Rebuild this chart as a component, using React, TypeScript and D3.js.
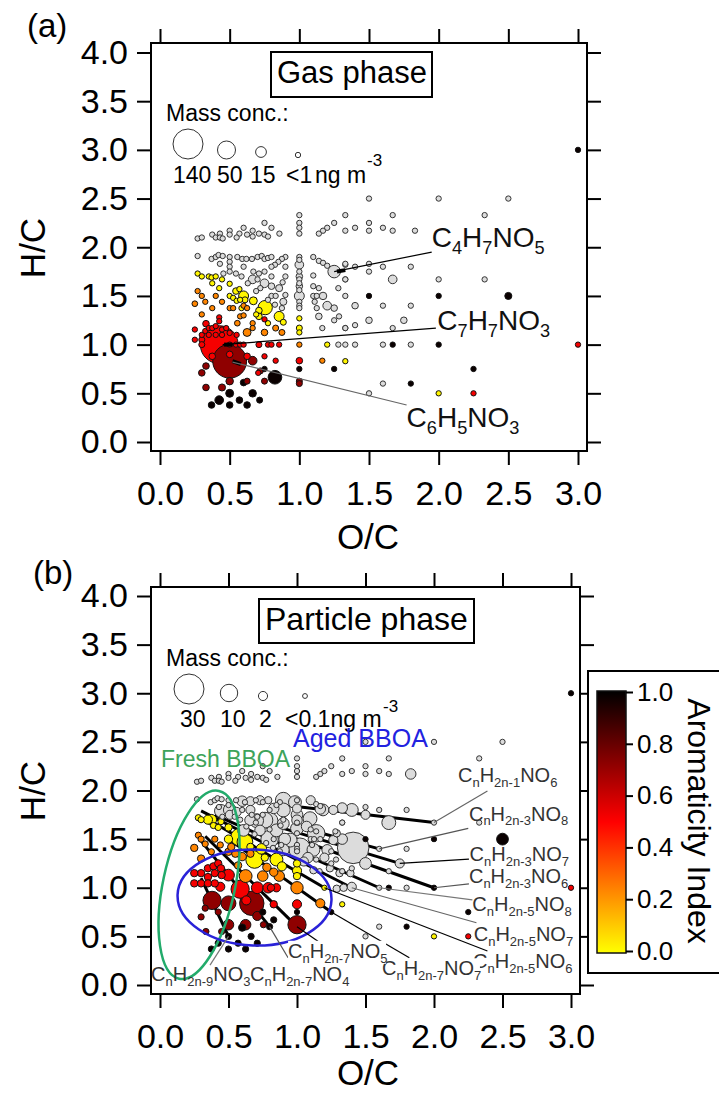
import React, { useEffect, useRef } from 'react';
import * as d3 from 'd3';

type Pt = [number, number, number?];

// small grey compounds seen in both phases [O/C, H/C]
const upperGrey: Pt[] = [
  [.27, 2.09], [.30, 2.10], [.375, 2.13], [.40, 2.10], [.43, 2.14], [.43, 2.10], [.45, 2.09], [.50, 2.17], [.50, 2.13],
  [.60, 2.20], [.57, 2.14], [.55, 2.10], [.625, 2.13], [.665, 2.17], [.665, 2.11], [.71, 2.14], [.75, 2.13], [.775, 2.11],
  [.75, 2.25], [.80, 2.20], [.857, 2.14], [1, 2.33], [1, 2.25], [1, 2.20], [1, 2.14], [1.14, 2.14], [1.17, 2.17], [1.2, 2.2],
  [1.25, 2.25], [1.33, 2.33], [1.33, 2.17], [1.4, 2.2], [1.5, 2.5], [2, 2.5], [2.5, 2.5], [1.67, 2.33], [2.33, 2.33], [1.5, 2.25],
  [1.5, 2.17], [1.6, 2.2], [1.67, 2.17], [1.83, 2.17],
];
const clusterGrey: Pt[] = [
  [.27, 1.91], [.37, 1.88], [.40, 1.9], [.42, 1.92], [.45, 1.91], [.5, 1.9], [.555, 1.9], [.59, 1.88], [.62, 1.88], [.66, 1.88],
  [.70, 1.9], [.73, 1.91], [.75, 1.88], [.775, 1.89], [.80, 1.9], [.90, 1.9], [.875, 1.88], [.85, 1.85], [.825, 1.82], [.8, 1.8],
  [.9, 1.8], [.43, 1.83], [.5, 1.85], [.5, 1.8], [.6, 1.8], [.5, 1.75], [.455, 1.73], [.545, 1.73], [.585, 1.7], [.67, 1.75],
  [.75, 1.75], [.71, 1.73], [.7, 1.67], [.8, 1.7], [.63, 1.63], [.8, 1.6], [.855, 1.58], [.88, 1.64], [.9, 1.7], [.72, 1.58],
  [.69, 1.55], [.8, 1.5], [.83, 1.5], [.9, 1.51], [.885, 1.44], [.875, 1.375], [.775, 1.46], [.825, 1.41],
  [1, 1.9], [1, 1.87], [1, 1.75], [1, 1.7], [1, 1.67], [1, 1.63], [1, 1.6], [1, 1.56], [1, 1.44], [1, 1.4], [1, 1.375],
  [1.1, 1.9], [1.14, 1.86], [1.17, 1.84], [1.2, 1.81], [1.33, 1.67], [1.1, 1.71], [1.33, 1.82], [1.1, 1.6], [1.14, 1.58], [1.28, 1.58],
  [1.1, 1.5], [1.125, 1.5], [1.17, 1.5], [1.33, 1.5], [1.11, 1.44], [1.125, 1.375], [1.25, 1.375], [1.14, 1.29], [1.285, 1.29],
  [1.25, 1.25], [1.165, 1.17], [1.33, 1.17],
];
const rightGrey: Pt[] = [
  [1.33, 1.83], [1.4, 1.8], [1.5, 1.83], [1.6, 1.8], [1.8, 1.8], [1.5, 1.75], [1.33, 1.67], [2, 1.67], [2.33, 1.67],
  [1.4, 1.4], [1.6, 1.4], [1.8, 1.4], [1.4, 1.2], [1.5, 1.25], [1.67, 1.17], [1.75, 1.25], [1.33, 1.17],
  [1.28, 1], [1.33, 1], [1.4, 1], [1.6, 1], [1.8, 1], [1.6, .6], [1.5, .5],
];
const sharedBlack: Pt[] = [[3, 3], [1.5, 1.5], [2, 1.5], [2.5, 1.5, 4], [1.67, 1], [2, 1], [2.25, .75], [1.8, .6], [1, .75], [1.25, .75]];
const sharedYellow: Pt[] = [[1.33, .83], [2, .5], [1.2, 1]];
const sharedRed: Pt[] = [[3, 1], [2.25, .5]];

// gas phase [O/C, H/C, mass]
const gasGrey: Pt[] = [
  [1.25, 1.75, 22], [1.67, 1.67, 8], [1, 1.82, 8], [1, 1.5, 12], [.665, 1.67, 8], [.75, 1.63, 8], [1.2, 1.4, 8], [1.17, 1.5, 5], [1.25, 1.375, 3],
  [1, 1.6, 3], [1, 1.7, 3], [.8, 1.6, 3], [.855, 1.58, 4], [.885, 1.44, 4], [1.14, 1.29, 3], [1.5, 1.25, 3], [1.75, 1.25, 3], [1.4, 1.4, 3],
];
const gasYellow: Pt[] = [
  [.27, 1.73, 1], [.3, 1.7, 1], [.35, 1.7, 1], [.37, 1.69, 1], [.4, 1.7, 1], [.375, 1.63, 1], [.445, 1.67, 1], [.425, 1.58, 1], [.5, 1.625, 1],
  [.545, 1.55, 3], [.57, 1.57, 1], [.6, 1.5, 12], [.5, 1.5, 1], [.525, 1.48, 1], [.55, 1.45, 1], [.575, 1.46, 1], [.61, 1.46, 2], [.67, 1.45, 6],
  [.585, 1.375, 1], [.755, 1.38, 30], [.71, 1.35, 3], [.69, 1.31, 1], [.71, 1.29, 3], [.855, 1.29, 12], [.885, 1.23, 2], [1, 1.27, 1], [1, 1.17, 2], [1, 1.125, 1], [.775, 1.22, 1],
];
const gasOrange: Pt[] = [
  [.27, 1.55, 1], [.3, 1.5, 1], [.325, 1.44, 1], [.25, 1.42, 1.5], [.4, 1.5, 1], [.375, 1.375, 1], [.445, 1.44, 1], [.5, 1.375, 1], [.525, 1.375, 1],
  [.6, 1.4, 1], [.625, 1.375, 1], [.3, 1.31, 1], [.575, 1.29, 1], [.6, 1.3, 1], [.555, 1.22, 1.5], [.665, 1.22, 1], [.665, 1.17, 1], [.625, 1.125, 6],
  [.75, 1.125, 3], [.83, 1.17, 2], [.875, 1.125, 2], [1, 1, 1], [1.165, .835, 1],
];
const gasRed: Pt[] = [
  [.425, 1, 217], [.33, 1.215, 3], [.25, 1.155, 1], [.25, 1.05, 1], [.3, 1.1, 1], [.325, 1.14, 1], [.35, 1.17, 1], [.375, 1.17, 1], [.4, 1.19, 1],
  [.425, 1.28, 1], [.425, 1.24, 1], [.445, 1.155, 1], [.475, 1.17, 1], [.5, 1.12, 1], [.55, 1.1, 1], [.3, 1.05, 2], [.3, 1, 2], [.445, 1.1, 1],
  [.4, 1.1, 1], [.35, 1.1, 1], [.5, 1, 1], [.545, 1, 1], [.575, 1, 1], [.6, 1, 1], [.71, 1, 2], [.775, 1, 1], [.8, 1, 1], [.855, 1, 1],
  [.75, 1.26, 1], [1, .835, 3], [.75, .88, 1], [.83, .835, 1], [.375, .88, 3], [.5, .9, 3], [.625, .88, 3], [.705, .71, 1],
];
const gasDark: Pt[] = [
  [.5, .83, 176], [.665, .835, 8], [.33, .78, 3], [.3, .71, 3], [.72, .73, 2], [.5, .625, 5], [.625, .625, 2], [.75, .625, 2], [1, .625, 2], [1, .6, 2], [.33, .56, 3], [.445, .56, 4],
];
const gasBlack: Pt[] = [
  [.825, .665, 27], [.6, .61, 3], [.75, .75, 1], [.5, .5, 6], [.665, .5, 5], [.57, .43, 3], [.715, .43, 2], [.425, .43, 8], [.37, .38, 3], [.5, .38, 3], [.625, .38, 3],
];

// particle phase [O/C, H/C, mass]
const particleGrey: Pt[] = [
  [1.41, 1.41, 33], [.6, 1.89, 3], [.66, 1.89, 2], [.73, 1.9, 2], [.9, 1.9, 8], [.79, 1.9, 1], [.985, 1.88, 5], [1.1, 1.9, 2], [1.17, 1.81, 3], [1.19, 1.8, 4],
  [1.4, 1.8, 5], [1.33, 1.83, 1], [1.265, 1.8, 2], [.445, 1.79, 5], [.51, 1.8, 5], [.8, 1.69, 9], [.705, 1.69, 6], [.9, 1.8, 6], [1, 1.75, 4], [1, 1.61, 5],
  [1.095, 1.71, 6], [.9, 1.66, 4], [1.14, 1.56, 10], [.8, 1.5, 10], [.91, 1.5, 4], [1.02, 1.4, 16], [.9, 1.39, 4], [1.265, 1.49, 2], [1.29, 1.56, 1], [1.34, 1.5, 2],
  [.51, 1.75, 2], [1.67, 1.67, 6], [1.83, 2.17, 3], [1.33, 1.82, 3], [1.5, 1.25, 4], [1.75, 1.25, 2], [1.5, 1.75, 2], [1.33, 1.5, 3], [1.2, 1.31, 2], [1.08, 1.31, 3],
  [.657, 1.695, 3], [.766, 1.695, 8], [.61, 1.59, 4], [1, 1.695, 3], [1.07, 1.63, 3], [.95, 1.49, 6], [.85, 1.59, 5], [1.12, 1.39, 5], [1.22, 1.39, 3], [1.05, 1.27, 2],
  [1.12, 1.18, 1], [1.24, 1.2, 1], [1.31, 1.15, 1], [1.39, 1.15, 1], [1.29, .99, 1], [1.34, 1, 1], [1.4, 1.01, 2], [.73, 1.59, 3], [.56, 1.78, 2], [.66, 1.8, 2],
  [1, 1.815, 2], [.83, 1.815, 3],
];
const particleYellow: Pt[] = [
  [.28, 1.72, .5], [.3, 1.7, .5], [.35, 1.7, 2], [.375, 1.7, 3], [.39, 1.64, .5], [.445, 1.68, .5], [.425, 1.62, .5], [.5, 1.62, 1], [.5, 1.5, 1.5], [.58, 1.52, 10],
  [.62, 1.47, 8], [.69, 1.29, 10], [.85, 1.29, 5], [.89, 1.22, 2], [1, 1.25, 1], [1, 1.175, 2], [1, 1.12, 1], [.765, 1.31, 1], [.74, 1.4, 3], [.66, 1.42, 1],
];
const particleOrange: Pt[] = [
  [.28, 1.54, .5], [.3, 1.5, .5], [.33, 1.45, .5], [.25, 1.41, 1], [.4, 1.5, .5], [.375, 1.37, .5], [.44, 1.44, .5], [.5, 1.37, 1], [.52, 1.42, 1], [.55, 1.35, 1],
  [.6, 1.32, 1.5], [.66, 1.35, 1], [.78, 1.21, 1.5], [.83, 1.16, 1.5], [.87, 1.12, 3], [1, 1, 4.5], [.75, 1.12, 3], [.625, 1.12, 5], [1.17, .84, 2], [.3, 1.3, 1], [.57, 1.23, 1],
];
const particleRed: Pt[] = [
  [.35, 1.2, 1], [.39, 1.22, 1], [.425, 1.25, 1], [.445, 1.2, 1], [.3, 1.15, 1], [.25, 1.15, 1], [.25, 1.045, 1], [.35, 1.11, 1], [.4, 1.15, 1], [.45, 1.13, 1],
  [.5, 1.13, 4], [.3, 1.045, 1], [.35, 1.045, 1], [.4, 1.045, 1], [.44, 1.01, 2], [.585, .985, 11], [.71, 1, 4], [.79, 1, 3], [.81, 1, 1], [.85, 1, 1.5], [1, .83, 2], [.83, .83, 1], [.63, .87, 2],
];
const particleDark: Pt[] = [
  [.38, .87, 11], [.5, .84, 7], [.67, .84, 20], [1, .62, 11], [.71, .71, 2], [.3, .7, .5], [.33, .79, .5], [.425, .75, .5], [.5, .62, 3], [.625, .62, 3], [.755, .62, .5], [.335, .55, .5], [.45, .55, .5],
];
const particleBlack: Pt[] = [
  [.75, .75, .5], [.83, .67, .5], [.8, .6, .5], [.6, .59, 1], [.5, .5, .5], [.665, .5, .5], [.425, .43, .5], [.57, .43, .5], [.71, .43, .5], [.375, .37, .5], [.5, .37, .5], [.625, .37, .5],
];

// homologous series drawn as thick lines in panel b
const seriesLines: Pt[][] = [
  [[.9, 1.85], [2, 1.67]],
  [[1, 1.63], [1.6, 1.4]],
  [[.9, 1.61], [1.75, 1.25]],
  [[.9, 1.55], [2, 1]],
  [[.4, 1.75], [1.6, 1]],
  [[.3, 1.79], [1.4, 1]],
  [[.33, 1.72], [1.2, 1]],
  [[.5, 1.5], [1.25, .75]],
  [[.33, 1.53], [1, .6]],
  [[.29, 1.5], [.8, .6]],
  [[.3, 1.1], [.5, .5]],
];

const gasStubs: Pt[][] = [
  [[1.27, 1.75], [1.33, 1.765]],
  [[.46, 1], [.52, 1]],
  [[.52, .83], [.58, .8]],
];

// leader target, line end, text position (all in O/C, H/C), then colour
const gasLabels = [
  { text: 'C_{4}H_{7}NO_{5}', target: [1.25, 1.75], end: [1.95, 1.95], at: [1.95, 2.0], color: '#000' },
  { text: 'C_{7}H_{7}NO_{3}', target: [.45, 1], end: [1.98, 1.17], at: [1.99, 1.15], color: '#000' },
  { text: 'C_{6}H_{5}NO_{3}', target: [.52, .82], end: [1.77, .38], at: [1.77, .155], color: '#666' },
];
const particleLabels = [
  { text: 'C_{n}H_{2n-1}NO_{6}', target: [2, 1.67], end: [2.39, 1.995], at: [2.175, 2.09], color: '#666' },
  { text: 'C_{n}H_{2n-3}NO_{8}', target: [1.6, 1.4], end: [2.25, 1.61], at: [2.255, 1.69], color: '#555' },
  { text: 'C_{n}H_{2n-3}NO_{7}', target: [1.75, 1.25], end: [2.255, 1.295], at: [2.26, 1.275], color: '#000' },
  { text: 'C_{n}H_{2n-3}NO_{6}', target: [2, 1], end: [2.255, 1.04], at: [2.255, 1.05], color: '#555' },
  { text: 'C_{n}H_{2n-5}NO_{8}', target: [1.6, 1], end: [2.28, .875], at: [2.28, .76], color: '#777' },
  { text: 'C_{n}H_{2n-5}NO_{7}', target: [1.4, 1], end: [2.31, .64], at: [2.29, .45], color: '#666' },
  { text: 'C_{n}H_{2n-5}NO_{6}', target: [1.2, 1], end: [2.39, .35], at: [2.285, .175], color: '#000' },
  { text: 'C_{n}H_{2n-7}NO_{7}', target: [1.25, .75], end: [1.82, .28], at: [1.62, .10], color: '#000', bg: true },
  { text: 'C_{n}H_{2n-7}NO_{5}', target: [1, .6], end: [1.153, .45], at: [.935, .28], color: '#000', bg: true },
  { text: 'C_{n}H_{2n-7}NO_{4}', target: [.8, .6], end: [.935, .28], at: [.657, .04], color: '#555' },
  { text: 'C_{n}H_{2n-9}NO_{3}', target: [.5, .5], end: [.365, .205], at: [-.065, .04], color: '#777' },
];

const xTicks = [0, .5, 1, 1.5, 2, 2.5, 3];
const yTicks = [0, .5, 1, 1.5, 2, 2.5, 3, 3.5, 4];
const barTicks = [0, .2, .4, .6, .8, 1];

const aiYellow = .02, aiOrange = .24, aiRed = .52, aiDark = .72, aiBlack = .98;

const aiColor = d3.scaleLinear<string>().domain([0, .5, 1]).range(['#ffff00', '#ff0000', '#000000']);

const font = 'Arial, "Liberation Sans", sans-serif';
const fmt = d3.format('.1f');

// renders "C_{n}H_{2n-1}" with real subscripts
const Formula = ({ text, x, y, size, color }: any) => {
  const parts = text.split(/(_\{[^}]*\})/).filter(Boolean);
  let wasSub = false;
  return (
    <text x={x} y={y} fontSize={size} fill={color}>
      {parts.map((p: string, i: number) => {
        const isSub = p.startsWith('_{');
        const dy = isSub === wasSub ? 0 : isSub ? size * .24 : -size * .24;
        wasSub = isSub;
        return <tspan key={i} dy={dy} fontSize={isSub ? size * .65 : size}>{isSub ? p.slice(2, -1) : p}</tspan>;
      })}
    </text>
  );
};

const Axes = ({ x, y, frame }: any) => {
  const ref = useRef<SVGGElement>(null);
  useEffect(() => {
    const g = d3.select(ref.current);
    g.selectAll('*').remove();
    const add = (axis: any, tr: string) => {
      const a = g.append('g').attr('transform', tr).call(axis);
      a.select('.domain').remove();
      a.selectAll('line').attr('stroke', '#000').attr('stroke-width', 2);
      a.selectAll('text').attr('font-size', 34).attr('font-family', font).attr('fill', '#000');
    };
    add(d3.axisBottom(x).tickValues(xTicks).tickSize(14).tickPadding(16).tickFormat((d: any) => fmt(d)), `translate(0,${frame.bottom})`);
    add(d3.axisTop(x).tickValues(xTicks).tickSize(14).tickFormat(() => ''), `translate(0,${frame.top})`);
    add(d3.axisLeft(y).tickValues(yTicks).tickSize(14).tickPadding(9).tickFormat((d: any) => fmt(d)), `translate(${frame.left},0)`);
    add(d3.axisRight(y).tickValues(yTicks).tickSize(14).tickFormat(() => ''), `translate(${frame.right},0)`);
  }, []);
  return <g ref={ref} />;
};

const Panel = ({ frame, xRange, yRange, groups, radius, lines, stubs, labels, labelSize, labelColor, children }: any) => {
  const x = d3.scaleLinear().domain([0, 3]).range(xRange);
  const y = d3.scaleLinear().domain([0, 4]).range(yRange);
  const all = groups
    .flatMap((g: any) => g.pts.map((p: Pt) => ({ o: p[0], h: p[1], m: p[2] ?? g.mass, ai: g.ai })));
  // a small marker sitting on a bigger grey one at the same spot is dropped
  const points = all
    .filter((p: any) => !all.some((q: any) => q !== p && q.m > p.m && p.ai === null && q.ai === null
      && Math.abs(q.o - p.o) < .02 && Math.abs(q.h - p.h) < .02))
    .sort((a: any, b: any) => b.m - a.m);
  const line = d3.line<Pt>().x((d) => x(d[0])).y((d) => y(d[1]));
  return (
    <g>
      <rect x={frame.left} y={frame.top} width={frame.right - frame.left} height={frame.bottom - frame.top} fill="#fff" stroke="#000" strokeWidth={2} />
      <Axes x={x} y={y} frame={frame} />
      {lines.map((l: Pt[], i: number) => <path key={i} d={line(l) as string} stroke="#000" strokeWidth={3} fill="none" />)}
      {points.map((p: any, i: number) => (
        <circle key={i} cx={x(p.o)} cy={y(p.h)} r={radius(p.m)}
          fill={p.ai === null ? '#dcdcdc' : aiColor(p.ai)}
          stroke={p.ai === null ? '#333' : '#111'} strokeWidth={1} />
      ))}
      {stubs.map((l: Pt[], i: number) => <path key={i} d={line(l) as string} stroke="#000" strokeWidth={4} fill="none" />)}
      {children(x, y)}
      {labels.map((l: any, i: number) => (
        <path key={i} d={line([l.target, l.end]) as string} stroke={l.color} strokeWidth={1.2} fill="none" />
      ))}
      {labels.map((l: any, i: number) => (
        <g key={i}>
          {l.bg && <rect x={x(l.at[0])} y={y(l.at[1]) - 17} width={98} height={23} fill="#fff" />}
          <Formula text={l.text} x={x(l.at[0])} y={y(l.at[1])} size={labelSize} color={labelColor ?? '#333'} />
        </g>
      ))}
    </g>
  );
};

const MassLegend = ({ radius, circles, texts, caption, baseline, sup }: any) => (
  <g>
    <text x={166} y={caption} fontSize={23}>Mass conc.:</text>
    {circles.map((c: any, i: number) => <circle key={i} cx={c.x} cy={c.y} r={radius(c.m)} fill="#fff" stroke="#333" strokeWidth={1} />)}
    {texts.map((t: any, i: number) => <text key={i} x={t.x} y={baseline} fontSize={23}>{t.s}</text>)}
    <text x={sup.x} y={sup.y} fontSize={17}>-3</text>
  </g>
);

export default function App() {
  const barRef = useRef<SVGGElement>(null);
  const barScale = d3.scaleLinear().domain([0, 1]).range([951, 692]);

  useEffect(() => {
    const g = d3.select(barRef.current);
    g.selectAll('*').remove();
    g.attr('transform', 'translate(626,0)').call(d3.axisRight(barScale).tickValues(barTicks).tickSize(7).tickPadding(4).tickFormat((d: any) => fmt(d)) as any);
    g.select('.domain').remove();
    g.selectAll('line').attr('stroke', '#000').attr('stroke-width', 2);
    g.selectAll('text').attr('font-size', 26).attr('font-family', font).attr('fill', '#000');
  }, []);

  const gasRadius = d3.scalePow().exponent(.6).domain([0, 140]).range([2, 15]);
  const particleRadius = d3.scalePow().exponent(.6).domain([0, 30]).range([2, 15]);

  const sharedGroups = (mass: number) => [
    { pts: upperGrey, mass, ai: null },
    { pts: clusterGrey, mass, ai: null },
    { pts: rightGrey, mass, ai: null },
    { pts: sharedBlack, mass, ai: aiBlack },
    { pts: sharedYellow, mass, ai: aiYellow },
    { pts: sharedRed, mass, ai: aiRed },
  ];

  const gasGroups = [
    ...sharedGroups(1),
    { pts: gasGrey, ai: null },
    { pts: gasYellow, ai: aiYellow },
    { pts: gasOrange, ai: aiOrange },
    { pts: gasRed, ai: aiRed },
    { pts: gasDark, ai: aiDark },
    { pts: gasBlack, ai: aiBlack },
  ];
  const particleGroups = [
    ...sharedGroups(.2),
    { pts: particleGrey, ai: null },
    { pts: particleYellow, ai: aiYellow },
    { pts: particleOrange, ai: aiOrange },
    { pts: particleRed, ai: aiRed },
    { pts: particleDark, ai: aiDark },
    { pts: particleBlack, ai: aiBlack },
  ];

  return (
    <svg width={719} height={1093} style={{ position: 'absolute', left: 0, top: 0 }} fontFamily={font}>
      <defs>
        <linearGradient id="aiGradient" x1="0" y1="1" x2="0" y2="0">
          {d3.range(0, 1.01, .1).map((t) => <stop key={t} offset={t} stopColor={aiColor(t)} />)}
        </linearGradient>
      </defs>

      <text x={27} y={37} fontSize={33}>(a)</text>
      <Panel frame={{ left: 151, right: 587, top: 43, bottom: 451 }} xRange={[160, 578]} yRange={[442, 52.5]}
        groups={gasGroups} radius={gasRadius} lines={[]} stubs={gasStubs} labels={gasLabels} labelSize={28} labelColor="#111">
        {() => (
          <g>
            <rect x={271} y={52} width={161} height={45} fill="#fff" stroke="#000" strokeWidth={2} />
            <text x={277} y={83} fontSize={31}>Gas phase</text>
            <MassLegend radius={gasRadius} caption={121} baseline={183} sup={{ x: 367, y: 166 }}
              circles={[{ x: 188, y: 144, m: 140 }, { x: 226.5, y: 150, m: 50 }, { x: 261, y: 152, m: 15 }, { x: 298, y: 155, m: 1 }]}
              texts={[{ x: 173, s: '140' }, { x: 217, s: '50' }, { x: 250, s: '15' }, { x: 286, s: '<1' }, { x: 315, s: 'ng m' }]} />
          </g>
        )}
      </Panel>
      <text x={368} y={549} fontSize={35} textAnchor="middle">O/C</text>
      <text transform="translate(45,248) rotate(-90)" fontSize={35} textAnchor="middle">H/C</text>

      <text x={33} y={584} fontSize={33}>(b)</text>
      <Panel frame={{ left: 151, right: 580, top: 587, bottom: 994 }} xRange={[160, 571]} yRange={[985, 596]}
        groups={particleGroups} radius={particleRadius} lines={seriesLines} stubs={[]} labels={particleLabels} labelSize={20}>
        {(x: any, y: any) => (
          <g>
            <ellipse cx={x(.285)} cy={y(1.03)} rx={36} ry={96} transform={`rotate(12 ${x(.285)} ${y(1.03)})`} fill="none" stroke="#22ab6b" strokeWidth={2.5} />
            <ellipse cx={x(.69)} cy={y(.9)} rx={77} ry={48} transform={`rotate(2 ${x(.69)} ${y(.9)})`} fill="none" stroke="#2a22d8" strokeWidth={2.5} />
            <rect x={259} y={599} width={215} height={44} fill="#fff" stroke="#000" strokeWidth={2} />
            <text x={265} y={630} fontSize={32}>Particle phase</text>
            <MassLegend radius={particleRadius} caption={666} baseline={727} sup={{ x: 383, y: 712 }}
              circles={[{ x: 189, y: 689, m: 30 }, { x: 229, y: 693, m: 10 }, { x: 263, y: 696, m: 2 }, { x: 305, y: 696, m: .1 }]}
              texts={[{ x: 180, s: '30' }, { x: 220, s: '10' }, { x: 259, s: '2' }, { x: 285, s: '<0.1ng m' }]} />
            <text x={161} y={767} fontSize={23} fill="#3da35a">Fresh BBOA</text>
            <text x={293} y={747} fontSize={25} fill="#2222e0">Aged BBOA</text>
          </g>
        )}
      </Panel>
      <text x={368} y={1085} fontSize={35} textAnchor="middle">O/C</text>
      <text transform="translate(45,791) rotate(-90)" fontSize={35} textAnchor="middle">H/C</text>

      <rect x={588} y={671} width={140} height={302} fill="#fff" stroke="#000" strokeWidth={2} />
      <rect x={597} y={691} width={29} height={262} fill="url(#aiGradient)" stroke="#111" strokeWidth={1.5} />
      <g ref={barRef} />
      <text transform="translate(688,821) rotate(90)" fontSize={32} textAnchor="middle">Aromaticity Index</text>
    </svg>
  );
}
